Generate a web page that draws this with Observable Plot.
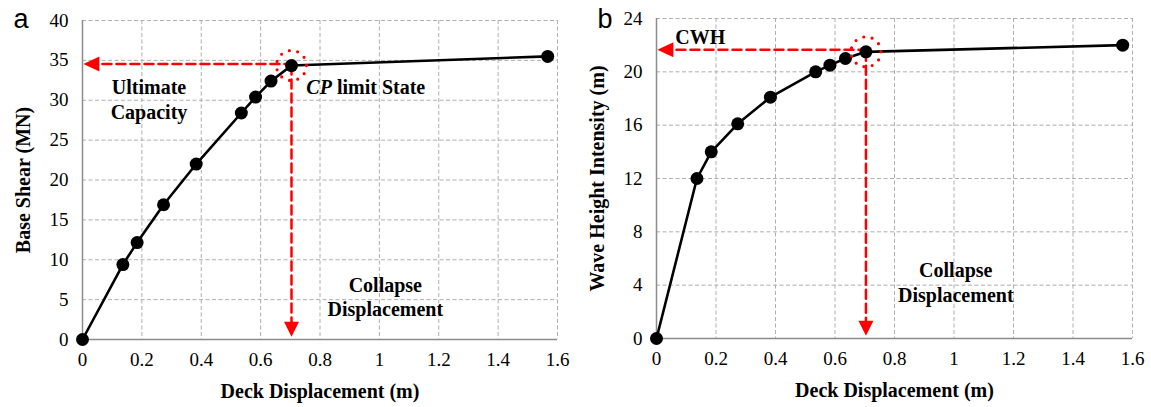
<!DOCTYPE html>
<html><head><meta charset="utf-8">
<script src="https://cdn.jsdelivr.net/npm/d3@7"></script>
<script src="https://cdn.jsdelivr.net/npm/@observablehq/plot@0.6"></script>
<style>
body{margin:0;background:#fff}
#wrap{position:relative;width:1151px;height:407px;overflow:hidden}
#wrap svg{position:absolute;top:0}
#wrap svg g[aria-label*="axis"], #wrap svg g[aria-label*="axis"] text{
  font-family:'Liberation Serif','Times New Roman',serif !important;
  font-size:19px !important; font-variant:normal !important;
}
</style>
</head><body><div id="wrap"></div>
<script>
// ---- data ----
const deckDisp   = [0, 0.136, 0.184, 0.273, 0.383, 0.535, 0.583, 0.635, 0.704, 1.567];
const baseShear  = [0, 9.4, 12.15, 16.9, 22.0, 28.4, 30.4, 32.4, 34.35, 35.5];
const waveHeight = [0, 12.0, 14.0, 16.1, 18.1, 20.0, 20.5, 21.0, 21.5, 22.0];
const xTicks  = [0, 0.2, 0.4, 0.6, 0.8, 1, 1.2, 1.4, 1.6];
const yTicksA = [0, 5, 10, 15, 20, 25, 30, 35, 40];
const yTicksB = [0, 4, 8, 12, 16, 20, 24];
const cpIndex = 8; // collapse-prevention point

const RED = "#ff0000";
const triLeft = {draw(c){c.moveTo(0,0);c.lineTo(16,-7.5);c.lineTo(16,7.5);c.closePath();}};
const triDown = {draw(c){c.moveTo(0,0);c.lineTo(-7.5,-15);c.lineTo(7.5,-15);c.closePath();}};

function panel(cfg){
  const pts = deckDisp.map((x,i)=>({x, y: cfg.values[i]}));
  const cp = pts[cpIndex];
  const bold = {fontWeight:"bold", fontSize:20, lineAnchor:"middle", fill:"black"};
  const svg = Plot.plot({
    width: cfg.width, height: 407,
    marginLeft: cfg.ml, marginRight: cfg.mr, marginTop: cfg.mt, marginBottom: cfg.mb,
    style: {fontFamily:"'Liberation Serif', 'Times New Roman', serif", fontSize:"19px", background:"white", overflow:"visible", color:"black"},
    x: {domain:[0,1.6], ticks: xTicks, tickFormat: d=>String(d), tickSize:0, tickPadding:13, label:null},
    y: {domain:cfg.yDomain, ticks: cfg.yTicks, tickFormat: d=>String(d), tickSize:0, tickPadding:14, label:null},
    marks: [
      Plot.ruleX(xTicks, {stroke:"#aeaeae", strokeWidth:1, strokeDasharray:"4,2.5"}),
      Plot.ruleY(cfg.yTicks, {stroke:"#aeaeae", strokeWidth:1, strokeDasharray:"4,2.5"}),
      Plot.ruleX([0], {stroke:"#8c8c8c", strokeWidth:1.5}),
      Plot.ruleY([0], {stroke:"#8c8c8c", strokeWidth:1.5}),
      // red dashed guide lines
      Plot.line([{x:0.02,y:cfg.hY},{x:cp.x,y:cfg.hY}], {x:"x", y:"y", stroke:RED, strokeWidth:2.5, strokeDasharray:"9,5"}),
      Plot.line([{x:cp.x,y:cp.y},{x:cp.x,y:cfg.tipY+1}], {x:"x", y:"y", stroke:RED, strokeWidth:2.5, strokeDasharray:"9,5"}),
      // curve
      Plot.line(pts, {x:"x", y:"y", stroke:"black", strokeWidth:2.6}),
      Plot.dot(pts, {x:"x", y:"y", r:6.5, fill:"black", stroke:"none"}),
      // dotted circle
      Plot.dot([cp], {x:"x", y:"y", r:15, fill:"none", stroke:RED, strokeWidth:3.2, strokeDasharray:"0,8.5", strokeLinecap:"round"}),
      // arrowheads
      Plot.dot([{x:0.003,y:cfg.hY}], {x:"x", y:"y", symbol:triLeft, fill:RED, stroke:"none"}),
      Plot.dot([{x:cp.x,y:cfg.tipY}], {x:"x", y:"y", symbol:triDown, fill:RED, stroke:"none"}),
      // annotations
      Plot.text(cfg.centerNotes, {x:"x", y:"y", text:"t", textAnchor:"middle", ...bold}),
      Plot.text(cfg.leftNotes, {x:"x", y:"y", text:"t", textAnchor:"start", ...bold}),
      // axis titles
      Plot.text([cfg.yLabel], {frameAnchor:"left", dx:-59, rotate:-90, textAnchor:"middle", ...bold}),
      Plot.text(["Deck Displacement (m)"], {frameAnchor:"bottom", dy:52, textAnchor:"middle", ...bold}),
      // panel letter
      Plot.text([cfg.letter], {frameAnchor:"top-left", dx:cfg.letterDx, dy:cfg.letterDy, textAnchor:"start", lineAnchor:"middle",
        fontFamily:"'Liberation Sans', Arial, sans-serif", fontSize:27, fill:"black"})
    ]
  });
  svg.style.left = cfg.left + "px";
  svg.querySelectorAll("text").forEach(t=>{
    if (t.textContent === "CP limit State") {
      t.innerHTML = '<tspan font-style="italic">CP</tspan> limit State';
    }
  });
  return svg;
}

const wrap = document.getElementById("wrap");
wrap.appendChild(panel({
  left:0, width:575, ml:82, mr:18, mt:20, mb:68,
  values: baseShear, yDomain:[0,40], yTicks:yTicksA,
  yLabel:"Base Shear (MN)", letter:"a", letterDx:-69, letterDy:-1,
  hY:34.55, tipY:0.35,
  centerNotes:[{x:0.224,y:31.6,t:"Ultimate"},{x:0.224,y:28.4,t:"Capacity"},
               {x:1.02,y:6.8,t:"Collapse"},{x:1.02,y:3.7,t:"Displacement"}],
  leftNotes:[{x:0.754,y:31.6,t:"CP limit State"}]
}));
wrap.appendChild(panel({
  left:575, width:576, ml:81, mr:19, mt:18, mb:69,
  values: waveHeight, yDomain:[0,24], yTicks:yTicksB,
  yLabel:"Wave Height Intensity (m)", letter:"b", letterDx:-59, letterDy:1,
  hY:21.65, tipY:0.2,
  centerNotes:[{x:1.006,y:5.1,t:"Collapse"},{x:1.006,y:3.25,t:"Displacement"}],
  leftNotes:[{x:0.063,y:22.6,t:"CWH"}]
}));
</script></body></html>
